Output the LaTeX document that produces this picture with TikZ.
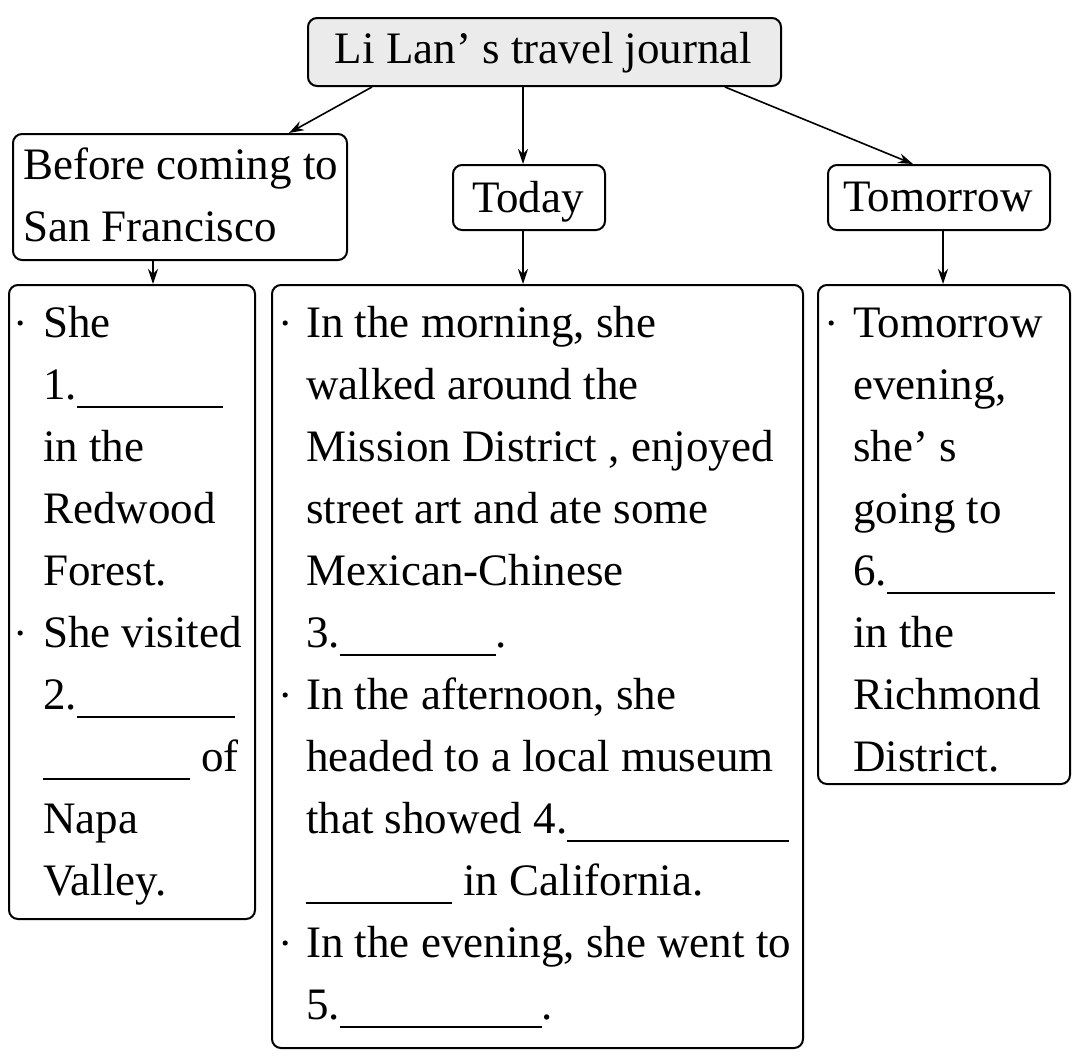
\documentclass[tikz,border=0pt]{standalone}
\usepackage{fontspec}
\setmainfont{Liberation Serif}
\usetikzlibrary{arrows.meta,calc}
\newcommand{\blank}[1]{\rule[-9pt]{#1}{1.8pt}}
\newcommand{\bul}{\tikz[x=1pt,y=1pt,baseline=0pt]{\useasboundingbox (0,0) rectangle (8,1);\fill (5,14) circle (2.6);}}
\begin{document}
\begin{tikzpicture}[x=1pt,y=-1pt,
  every node/.style={font=\fontsize{45}{62}\selectfont},
  boxstyle/.style={draw, line width=2pt, rounded corners=9pt, inner sep=0pt, anchor=north west},
  txt/.style={inner sep=0pt},
  conn/.style={line width=1.6pt, -{Stealth[length=15pt,width=10pt,inset=5pt]}}]
\useasboundingbox (0,0) rectangle (1080,1061);
% header boxes
\node[boxstyle, fill=gray!16, minimum width=473pt, minimum height=68pt] (top) at (307,17) {};
\node[txt, anchor=base] (toptxt) at (543.5,63) {Li Lan’ s travel journal};
\node[boxstyle, minimum width=334pt, minimum height=126pt] (before) at (12,133) {};
\node[txt, anchor=base west] (beforetxt) at (23,179) {\begin{tabular}[t]{@{}l@{}}Before coming to\\San Francisco\end{tabular}};
\node[boxstyle, minimum width=152pt, minimum height=65pt] (today) at (452,164) {};
\node[txt, anchor=base] (todaytxt) at (528,212) {Today};
\node[boxstyle, minimum width=222pt, minimum height=65pt] (tomorrow) at (827,164) {};
\node[txt, anchor=base] (tomorrowtxt) at (938,211) {Tomorrow};
% content boxes
\node[boxstyle, minimum width=246pt, minimum height=634pt] (lbox) at (8,284) {};
\node[boxstyle, minimum width=531pt, minimum height=763pt] (mbox) at (271,284) {};
\node[boxstyle, minimum width=252pt, minimum height=499pt] (rbox) at (817,284) {};
\node[txt, anchor=base west] (ltxt) at (15,337) {\begin{tabular}[t]{@{}p{28pt}@{}l@{}}
\bul&She\\
&1.\blank{146pt}\\
&in the\\
&Redwood\\
&Forest.\\
\bul&She visited\\
&2.\blank{158pt}\\
&\blank{147pt} of\\
&Napa\\
&Valley.
\end{tabular}};
\node[txt, anchor=base west] (mtxt) at (280,337) {\begin{tabular}[t]{@{}p{26pt}@{}l@{}}
\bul&In the morning, she\\
&walked around the\\
&Mission District , enjoyed\\
&street art and ate some\\
&Mexican-Chinese\\
&3.\blank{156pt}.\\
\bul&In the afternoon, she\\
&headed to a local museum\\
&that showed 4.\blank{222pt}\\
&\blank{146pt} in California.\\
\bul&In the evening, she went to\\
&5.\blank{202pt}.
\end{tabular}};
\node[txt, anchor=base west] (rtxt) at (826,337) {\begin{tabular}[t]{@{}p{27pt}@{}l@{}}
\bul&Tomorrow\\
&evening,\\
&she’ s\\
&going to\\
&6.\blank{168pt}\\
&in the\\
&Richmond\\
&District.
\end{tabular}};
% connectors
\draw[conn] ([xshift=65pt]top.south west) -- ([xshift=-59pt]before.north east);
\draw[conn] ([xshift=216pt]top.south west) -- ([xshift=71pt]today.north west);
\draw[conn] ([xshift=-57pt]top.south east) -- ([xshift=86pt]tomorrow.north west);
\draw[conn] ([xshift=141pt]before.south west) -- ([xshift=145pt]lbox.north west);
\draw[conn] ([xshift=71pt]today.south west) -- ([xshift=252pt]mbox.north west);
\draw[conn] ([xshift=116pt]tomorrow.south west) -- ([xshift=126pt]rbox.north west);
\end{tikzpicture}
\end{document}
